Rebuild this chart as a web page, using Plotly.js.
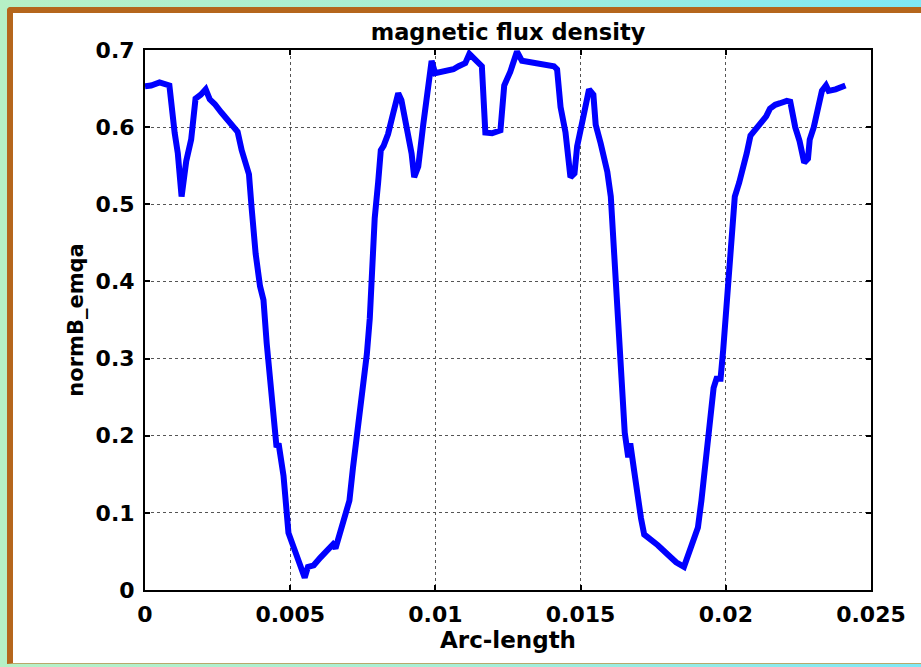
<!DOCTYPE html>
<html>
<head>
<meta charset="utf-8">
<script src="https://cdn.plot.ly/plotly-3.0.1.min.js"></script>
<style>
  html, body { margin: 0; padding: 0; }
  #stage {
    position: relative; width: 921px; height: 667px; overflow: hidden;
    background: linear-gradient(90deg, #b6f0c6 0%, #a6eed6 50%, #7ee8f6 100%);
  }
  #panel {
    position: absolute; left: 7px; top: 7px; width: 940px; height: 650px;
    background: #ffffff;
    border-left: 6px solid #b5661c; border-top: 6px solid #b5661c;
    border-bottom: 1px solid #b9a86a;
    border-top-left-radius: 4px;
  }
  #chart { position: absolute; left: 0; top: 0; width: 921px; height: 667px; }
</style>
</head>
<body>
<div id="stage">
  <div id="panel"></div>
  <div id="chart"></div>
</div>
<script>
// Arc-length positions along the boundary
const arcLength = [
  0.0, 0.00021, 0.0005, 0.00084, 0.00102, 0.00113, 0.00126, 0.00142, 0.00159, 0.00174,
  0.00192, 0.00209, 0.00223, 0.0024, 0.00263, 0.00292, 0.00319, 0.00333, 0.00344, 0.00358,
  0.00367, 0.00381, 0.00396, 0.00408, 0.00419, 0.00431, 0.00446, 0.00453, 0.0046, 0.00477,
  0.00494, 0.00512, 0.00529, 0.0055, 0.00561, 0.00581, 0.00604, 0.00624, 0.00647, 0.00656,
  0.0067, 0.00687, 0.00704, 0.00716, 0.0073, 0.00741, 0.00747, 0.00756, 0.00764, 0.00774,
  0.00783, 0.00791, 0.00803, 0.00812, 0.00822, 0.00837, 0.00854, 0.00872, 0.00883, 0.00901,
  0.00918, 0.00927, 0.00941, 0.00958, 0.00976, 0.00987, 0.00999, 0.01022, 0.01045, 0.01062,
  0.0108, 0.01103, 0.01117, 0.01134, 0.0116, 0.01172, 0.01195, 0.01224, 0.01237, 0.01258,
  0.01281, 0.01298, 0.01327, 0.01361, 0.01408, 0.01419, 0.01431, 0.01448, 0.01465, 0.01479,
  0.01488, 0.01506, 0.01529, 0.01544, 0.01552, 0.01569, 0.01592, 0.01604, 0.01615, 0.01627,
  0.01639, 0.01652, 0.01664, 0.01671, 0.01685, 0.01696, 0.01708, 0.01719, 0.01737, 0.01766,
  0.018, 0.01829, 0.01856, 0.0187, 0.01881, 0.01893, 0.01904, 0.01916, 0.01927, 0.01939,
  0.0195, 0.01958, 0.01968, 0.01982, 0.01991, 0.02002, 0.02014, 0.02031, 0.02046, 0.0206,
  0.02072, 0.02085, 0.021, 0.02118, 0.02139, 0.02152, 0.0217, 0.02187, 0.0221, 0.02222,
  0.02239, 0.02254, 0.0227, 0.02283, 0.02289, 0.02303, 0.02316, 0.02331, 0.02345, 0.02354,
  0.02378, 0.02395, 0.02412
];

// Norm of the magnetic flux density at each arc-length position
const normB = [
  0.653, 0.654, 0.658, 0.654, 0.593, 0.566, 0.51, 0.556, 0.584, 0.637,
  0.642, 0.649, 0.636, 0.63, 0.619, 0.605, 0.594, 0.57, 0.556, 0.539,
  0.496, 0.436, 0.394, 0.376, 0.32, 0.269, 0.195, 0.185, 0.19, 0.148,
  0.074, 0.056, 0.037, 0.016, 0.03, 0.032, 0.042, 0.051, 0.059, 0.054,
  0.074, 0.095, 0.116, 0.158, 0.199, 0.236, 0.264, 0.278, 0.306, 0.352,
  0.417, 0.482, 0.529, 0.57, 0.576, 0.591, 0.617, 0.644, 0.635, 0.603,
  0.566, 0.535, 0.549, 0.603, 0.663, 0.686, 0.67, 0.672, 0.675, 0.675,
  0.679, 0.683, 0.695, 0.688, 0.679, 0.593, 0.592, 0.596, 0.654, 0.672,
  0.698, 0.686, 0.684, 0.681, 0.679, 0.675, 0.626, 0.593, 0.535, 0.54,
  0.575, 0.607, 0.649, 0.642, 0.603, 0.579, 0.542, 0.51, 0.436, 0.343,
  0.274, 0.204, 0.172, 0.19, 0.153, 0.121, 0.093, 0.072, 0.067, 0.058,
  0.046, 0.036, 0.03, 0.046, 0.06, 0.07, 0.081, 0.116, 0.158, 0.204,
  0.25, 0.262, 0.274, 0.274, 0.311, 0.371, 0.422, 0.51, 0.528, 0.547,
  0.566, 0.589, 0.596, 0.605, 0.614, 0.624, 0.629, 0.631, 0.634, 0.633,
  0.6, 0.582, 0.554, 0.559, 0.584, 0.6, 0.624, 0.647, 0.654, 0.647,
  0.649, 0.651, 0.654
];

const xTickVals = [0, 0.005, 0.01, 0.015, 0.02, 0.025];
const xTickText = ['0', '0.005', '0.01', '0.015', '0.02', '0.025'];
const yTickVals = [0, 0.1, 0.2, 0.3, 0.4, 0.5, 0.6, 0.7];
const yTickText = ['0', '0.1', '0.2', '0.3', '0.4', '0.5', '0.6', '0.7'];

const FONT = '"DejaVu Sans", Verdana, sans-serif';

const trace = {
  x: arcLength,
  y: normB,
  type: 'scatter',
  mode: 'lines',
  line: { color: '#0000ff', width: 6, shape: 'linear' },
  hoverinfo: 'skip'
};

const axisCommon = {
  showline: true, linecolor: '#000000', linewidth: 2, mirror: 'ticks',
  ticks: 'inside', ticklen: 5, tickwidth: 2, tickcolor: '#000000',
  showgrid: true, gridcolor: '#555555', gridwidth: 1, griddash: 'dot',
  zeroline: false, fixedrange: true,
  tickfont: { family: FONT, size: 22, color: '#000000', weight: 'bold' }
};

const layout = {
  width: 921, height: 667,
  margin: { l: 145, r: 50, t: 50, b: 77, pad: 0 },
  paper_bgcolor: 'rgba(0,0,0,0)',
  plot_bgcolor: '#ffffff',
  showlegend: false,
  title: {
    text: 'magnetic flux density',
    font: { family: FONT, size: 22.5, color: '#000000', weight: 'bold' },
    x: 0.5516, xanchor: 'center', xref: 'container',
    y: 1 - 32 / 667, yanchor: 'middle', yref: 'container'
  },
  xaxis: Object.assign({}, axisCommon, {
    range: [0, 0.025],
    tickmode: 'array', tickvals: xTickVals, ticktext: xTickText,
    ticklabelstandoff: 4,
    title: { text: 'Arc-length', standoff: 5,
      font: { family: FONT, size: 23, color: '#000000', weight: 'bold' } }
  }),
  yaxis: Object.assign({}, axisCommon, {
    range: [0, 0.7],
    tickmode: 'array', tickvals: yTickVals, ticktext: yTickText,
    ticklabelstandoff: 4,
    title: { text: 'normB_emqa', standoff: 6,
      font: { family: FONT, size: 21, color: '#000000', weight: 'bold' } }
  })
};

Plotly.newPlot('chart', [trace], layout, { staticPlot: true, displayModeBar: false });
</script>
</body>
</html>
